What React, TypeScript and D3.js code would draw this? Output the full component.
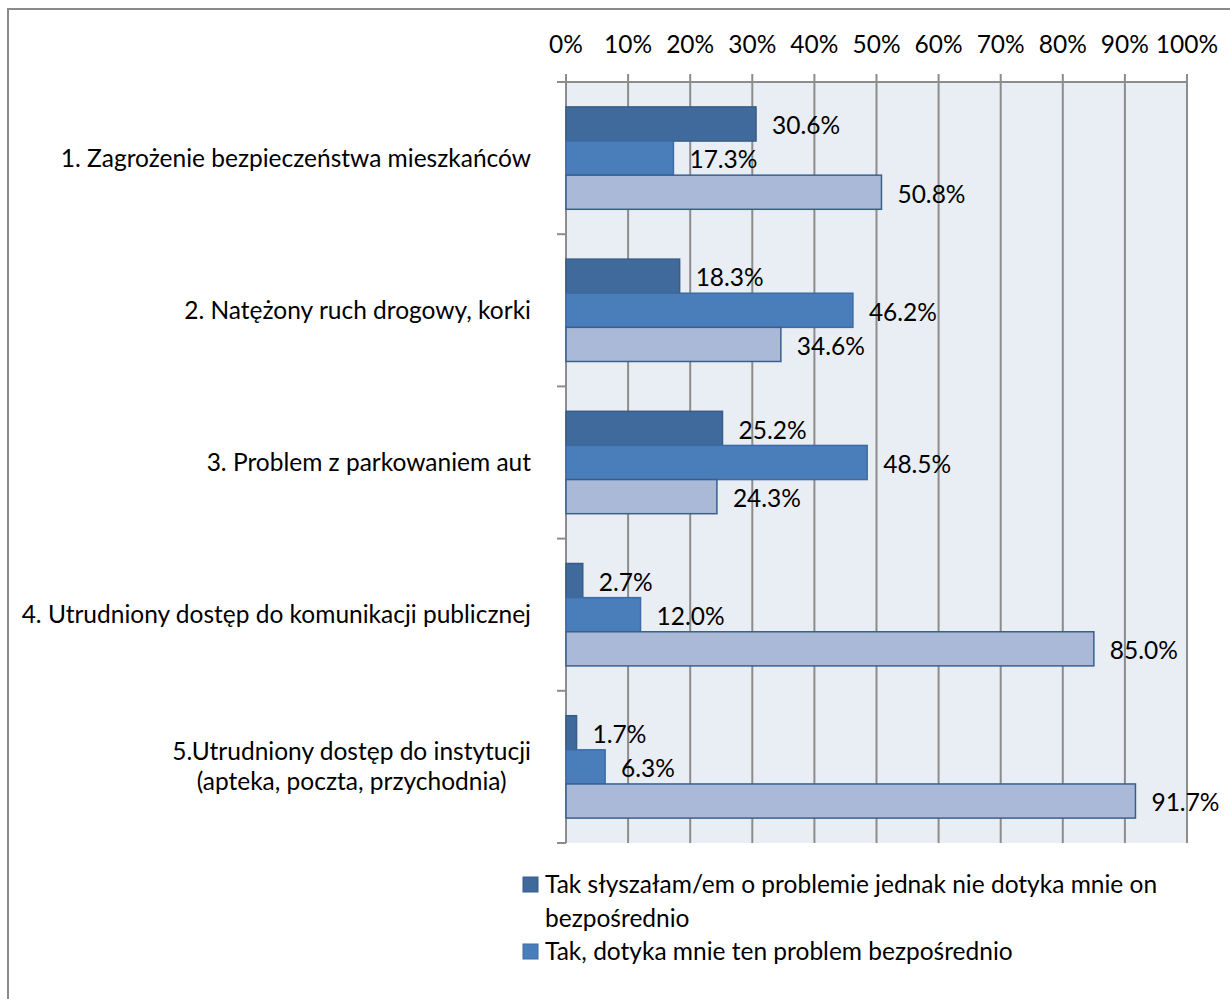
import { useEffect, useRef } from 'react';
import * as d3 from 'd3';

const categories = [
  ['1. Zagrożenie bezpieczeństwa mieszkańców'],
  ['2. Natężony ruch drogowy, korki'],
  ['3. Problem z parkowaniem aut'],
  ['4. Utrudniony dostęp do komunikacji publicznej'],
  ['5.Utrudniony dostęp do instytucji', '(apteka, poczta, przychodnia)'],
];
const seriesNames = [
  'Tak słyszałam/em o problemie jednak nie dotyka mnie on bezpośrednio',
  'Tak, dotyka mnie ten problem bezpośrednio',
  'Nie słyszałam/em o problemie',
];
const heardValues = [30.6, 18.3, 25.2, 2.7, 1.7];
const affectedValues = [17.3, 46.2, 48.5, 12.0, 6.3];
const notHeardValues = [50.8, 34.6, 24.3, 85.0, 91.7];
const tickValues = [0, 10, 20, 30, 40, 50, 60, 70, 80, 90, 100];

// legenda widoczna tylko dla dwóch pierwszych serii (reszta ucięta)
const legendLines = [
  ['Tak słyszałam/em o problemie jednak nie dotyka mnie on', 'bezpośrednio'],
  ['Tak, dotyka mnie ten problem bezpośrednio'],
];

const fills = ['#3F6A9B', '#4A7EBB', '#AAB9D7'];
const strokes = ['#375D8A', '#3D6CA5', '#3A5F8F'];
const FONT = 'Lato, "Open Sans", sans-serif';
const FS = 24.5;

const W = 1230;
const H = 999;

export default function App() {
  const svgRef = useRef<SVGSVGElement>(null);

  useEffect(() => {
    const svg = d3.select(svgRef.current);
    svg.selectAll('*').remove();

    const left = 566, right = 1187, top = 82, bottom = 843;

    const x = d3.scaleLinear().domain([0, 100]).range([left, right]);
    const y0 = d3.scaleBand<number>().domain(d3.range(categories.length)).range([top, bottom]);
    const y1 = d3.scaleBand<number>().domain([0, 1, 2]).range([0, y0.bandwidth()])
      .paddingInner(0).paddingOuter(0.73);

    const rows = [heardValues, affectedValues, notHeardValues];

    // ramka wykresu
    svg.append('rect')
      .attr('x', 8).attr('y', 9).attr('width', W + 20).attr('height', H + 20)
      .attr('fill', '#fff').attr('stroke', '#8a8a8a').attr('stroke-width', 2);

    // tło obszaru wykresu
    svg.append('rect')
      .attr('x', left).attr('y', top).attr('width', right - left).attr('height', bottom - top)
      .attr('fill', '#E9EDF4');

    // linie siatki
    svg.append('g').selectAll('line')
      .data(tickValues.slice(1))
      .enter().append('line')
      .attr('x1', d => x(d)).attr('x2', d => x(d))
      .attr('y1', top - 8).attr('y2', bottom)
      .attr('stroke', '#8c8c8c').attr('stroke-width', 2);

    // osie
    svg.append('line')
      .attr('x1', left - 9).attr('x2', right).attr('y1', top).attr('y2', top)
      .attr('stroke', '#8c8c8c').attr('stroke-width', 2);
    svg.append('line')
      .attr('x1', left).attr('x2', left).attr('y1', top - 8).attr('y2', bottom)
      .attr('stroke', '#8c8c8c').attr('stroke-width', 2);

    // znaczniki kategorii
    svg.append('g').selectAll('line')
      .data(d3.range(categories.length + 1))
      .enter().append('line')
      .attr('x1', left - 9).attr('x2', left)
      .attr('y1', d => top + d * y0.step()).attr('y2', d => top + d * y0.step())
      .attr('stroke', '#8c8c8c').attr('stroke-width', 2);

    // etykiety osi X
    svg.append('g').selectAll('text')
      .data(tickValues)
      .enter().append('text')
      .attr('x', d => x(d)).attr('y', 53)
      .attr('text-anchor', 'middle')
      .attr('font-family', FONT).attr('font-size', FS).attr('fill', '#000')
      .text(d => `${d}%`);

    // słupki
    rows.forEach((vals, s) => {
      const g = svg.append('g');
      g.selectAll('rect')
        .data(vals)
        .enter().append('rect')
        .attr('x', left)
        .attr('y', (_, i) => y0(i)! + y1(s)!)
        .attr('width', d => x(d) - left)
        .attr('height', y1.bandwidth())
        .attr('fill', fills[s]).attr('stroke', strokes[s]).attr('stroke-width', 1.5);
      g.selectAll('text')
        .data(vals)
        .enter().append('text')
        .attr('x', d => x(d) + 16)
        .attr('y', (_, i) => y0(i)! + y1(s)! + y1.bandwidth() / 2)
        .attr('dy', '0.42em')
        .attr('font-family', FONT).attr('font-size', FS).attr('fill', '#000')
        .text(d => `${d.toFixed(1)}%`);
    });

    // etykiety kategorii
    const labelRight = 531;
    categories.forEach((lines, i) => {
      const cy = y0(i)! + y0.bandwidth() / 2;
      const lh = 30;
      const g = svg.append('g');
      const texts = lines.map((ln, k) =>
        g.append('text')
          .attr('y', cy + (k - (lines.length - 1) / 2) * lh)
          .attr('dy', '0.35em')
          .attr('font-family', FONT).attr('font-size', FS).attr('fill', '#000')
          .text(ln));
      const widths = texts.map(t => (t.node() as SVGTextElement).getComputedTextLength());
      const maxW = Math.max(...widths);
      texts.forEach(t => t.attr('text-anchor', 'middle').attr('x', labelRight - maxW / 2));
    });

    // legenda
    let ly = 893;
    legendLines.forEach((lines, s) => {
      svg.append('rect')
        .attr('x', 523).attr('y', ly - 16).attr('width', 15).attr('height', 15)
        .attr('fill', fills[s]).attr('stroke', strokes[s]).attr('stroke-width', 1);
      lines.forEach(ln => {
        svg.append('text')
          .attr('x', 545).attr('y', ly)
          .attr('font-family', FONT).attr('font-size', FS).attr('fill', '#000')
          .text(ln);
        ly += 33.5;
      });
    });
  }, []);

  return (
    <svg ref={svgRef} width={W} height={H}
      style={{ position: 'absolute', left: 0, top: 0, background: '#fff' }} />
  );
}
